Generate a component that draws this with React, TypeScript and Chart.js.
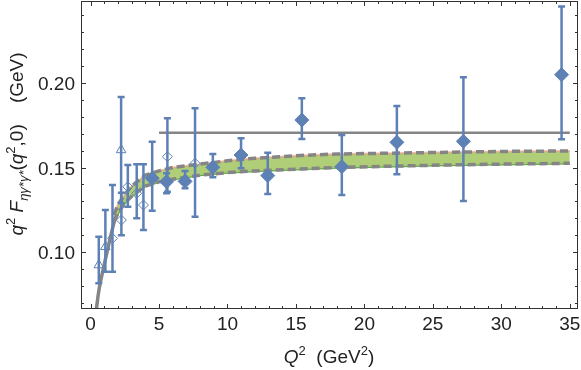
import React, { useEffect, useRef } from "react";
import { Chart, registerables } from "chart.js";

Chart.register(...registerables);

// ---- axis ticks ----
const xTickValues = [0, 5, 10, 15, 20, 25, 30, 35];
const yTickValues = [0.1, 0.15, 0.2];

// ---- BaBar-like data (filled diamonds) ----
const babarQ2 = [4.5, 5.55, 6.9, 8.93, 10.99, 12.94, 15.43, 18.35, 22.37, 27.23, 34.4];
const babarVal = [0.1436, 0.1416, 0.1418, 0.1501, 0.1574, 0.1452, 0.1781, 0.1505, 0.1649, 0.1655, 0.2049];
const babarHi = [0.1653, 0.1466, 0.1479, 0.158, 0.1673, 0.1588, 0.1909, 0.1692, 0.1864, 0.2034, 0.2452];
const babarLo = [0.1244, 0.1347, 0.1377, 0.1442, 0.1495, 0.1343, 0.1669, 0.1337, 0.146, 0.1302, 0.1667];

// ---- CLEO-like data (open diamonds) ----
const cleoQ2 = [1.6, 2.25, 2.72, 3.37, 3.86, 5.61, 7.63];
const cleoVal = [0.1081, 0.1189, 0.1386, 0.1347, 0.1278, 0.1564, 0.1525];
const cleoHi = [0.1396, 0.135, 0.1515, 0.152, 0.152, 0.1791, 0.185];
const cleoLo = [0.0883, 0.11, 0.1268, 0.12, 0.113, 0.1357, 0.1209];

// ---- CELLO-like data (open triangles) ----
const celloQ2 = [0.6, 1.08, 2.23];
const celloVal = [0.0923, 0.1031, 0.1604];
const celloHi = [0.109, 0.1249, 0.1917];
const celloLo = [0.0815, 0.0883, 0.129];

// ---- low-Q2 curve (solid gray) ----
const curveQ2 = [0.42, 0.6, 0.9, 1.2, 1.4, 1.77, 2.2, 2.6];
const curveVal = [0.066, 0.077, 0.089, 0.1, 0.107, 0.119, 0.127, 0.132];

// ---- band ----
const bandQ2 = [1.7, 2, 2.5, 3, 4, 5, 6, 8, 10, 12, 15, 18, 22, 26, 30, 35];
const bandUpper = [0.122, 0.128, 0.134, 0.139, 0.1455, 0.148, 0.15, 0.152, 0.154, 0.1555, 0.157, 0.158, 0.1585, 0.159, 0.1595, 0.1598];
const bandLower = [0.118, 0.123, 0.129, 0.133, 0.139, 0.1415, 0.143, 0.1455, 0.147, 0.148, 0.149, 0.15, 0.1508, 0.1515, 0.152, 0.1525];

// ---- asymptotic line ----
const plateauQ2 = [5, 35];
const plateauVal = [0.1706, 0.1706];

const BLUE = "#5e81b5";
const GRAY = "#858585";
const FONT = '"Liberation Sans", Arial, sans-serif';

const pts = (xs: number[], ys: number[]) => xs.map((x, i) => ({ x, y: ys[i] }));

type Seg = { t: string; it?: boolean; sup?: boolean; sub?: boolean };

function drawRich(ctx: CanvasRenderingContext2D, segs: Seg[], cx: number, baseY: number) {
  const fontFor = (s: Seg) => `${s.it ? "italic " : ""}${s.sup || s.sub ? 13 : 19}px ${FONT}`;
  let w = 0;
  segs.forEach((s) => {
    ctx.font = fontFor(s);
    w += ctx.measureText(s.t).width;
  });
  let x = cx - w / 2;
  ctx.textAlign = "left";
  ctx.textBaseline = "alphabetic";
  segs.forEach((s) => {
    ctx.font = fontFor(s);
    const dy = s.sup ? -8 : s.sub ? 5 : 0;
    ctx.fillText(s.t, x, baseY + dy);
    x += ctx.measureText(s.t).width;
  });
}

const errorBarPlugin = {
  id: "errorBars",
  beforeDatasetDraw(chart: any, args: any) {
    const ds = chart.data.datasets[args.index];
    if (!ds.errHi) return;
    const { ctx } = chart;
    const xs = chart.scales.x;
    const ys = chart.scales.y;
    ctx.save();
    ctx.strokeStyle = BLUE;
    ctx.lineWidth = 2.5;
    ds.data.forEach((p: any, i: number) => {
      const px = xs.getPixelForValue(p.x);
      const top = ys.getPixelForValue(ds.errHi[i]);
      const bot = ys.getPixelForValue(ds.errLo[i]);
      ctx.beginPath();
      ctx.moveTo(px, top);
      ctx.lineTo(px, bot);
      ctx.moveTo(px - 3.5, top);
      ctx.lineTo(px + 3.5, top);
      ctx.moveTo(px - 3.5, bot);
      ctx.lineTo(px + 3.5, bot);
      ctx.stroke();
    });
    ctx.restore();
  },
};

const framePlugin = {
  id: "frame",
  afterDraw(chart: any) {
    const { ctx, chartArea: a } = chart;
    const xs = chart.scales.x;
    const ys = chart.scales.y;
    ctx.save();
    ctx.strokeStyle = "#333";
    ctx.lineWidth = 1;
    ctx.strokeRect(a.left + 0.5, a.top + 0.5, a.right - a.left - 1, a.bottom - a.top - 1);
    ctx.beginPath();
    for (let v = 0; v <= 35; v += 1) {
      const px = Math.round(xs.getPixelForValue(v)) + 0.5;
      const len = v % 5 === 0 ? 5 : 3;
      ctx.moveTo(px, a.bottom);
      ctx.lineTo(px, a.bottom - len);
      ctx.moveTo(px, a.top);
      ctx.lineTo(px, a.top + len);
    }
    for (let k = 7; k <= 24; k += 1) {
      const v = k / 100;
      const py = Math.round(ys.getPixelForValue(v)) + 0.5;
      const len = k % 5 === 0 ? 5 : 3;
      ctx.moveTo(a.left, py);
      ctx.lineTo(a.left + len, py);
      ctx.moveTo(a.right, py);
      ctx.lineTo(a.right - len, py);
    }
    ctx.stroke();

    // tick labels
    ctx.fillStyle = "#222";
    ctx.font = `19px ${FONT}`;
    ctx.textBaseline = "alphabetic";
    ctx.textAlign = "center";
    xTickValues.forEach((v) => {
      ctx.fillText(String(v), xs.getPixelForValue(v), a.bottom + 21);
    });
    ctx.textAlign = "right";
    yTickValues.forEach((v) => {
      ctx.fillText(v.toFixed(2), a.left - 6, ys.getPixelForValue(v) + 7);
    });

    drawRich(
      ctx,
      [{ t: "Q", it: true }, { t: "2", sup: true }, { t: "  (GeV" }, { t: "2", sup: true }, { t: ")" }],
      329,
      363
    );
    ctx.save();
    ctx.translate(23, 144);
    ctx.rotate(-Math.PI / 2);
    drawRich(
      ctx,
      [
        { t: "q", it: true },
        { t: "2", sup: true },
        { t: " " },
        { t: "F", it: true },
        { t: "ηγ*γ*", sub: true, it: true },
        { t: "(" },
        { t: "q", it: true },
        { t: "2", sup: true },
        { t: ",0)" },
        { t: "    (GeV)" },
      ],
      0,
      0
    );
    ctx.restore();
    ctx.restore();
  },
};

export default function App() {
  const ref = useRef<HTMLCanvasElement | null>(null);

  useEffect(() => {
    if (!ref.current) return;
    const chart = new Chart(ref.current, {
      type: "scatter",
      data: {
        datasets: [
          {
            label: "BaBar",
            data: pts(babarQ2, babarVal),
            errHi: babarHi,
            errLo: babarLo,
            pointStyle: "rectRot",
            pointRadius: 7,
            backgroundColor: BLUE,
            borderColor: BLUE,
            borderWidth: 1,
            showLine: false,
            order: 0,
          } as any,
          {
            label: "CLEO",
            data: pts(cleoQ2, cleoVal),
            errHi: cleoHi,
            errLo: cleoLo,
            pointStyle: "rectRot",
            pointRadius: 5,
            backgroundColor: "rgba(255,255,255,0)",
            borderColor: BLUE,
            borderWidth: 1,
            showLine: false,
            order: 1,
          } as any,
          {
            label: "CELLO",
            data: pts(celloQ2, celloVal),
            errHi: celloHi,
            errLo: celloLo,
            pointStyle: "triangle",
            pointRadius: 5.5,
            backgroundColor: "rgba(255,255,255,0)",
            borderColor: BLUE,
            borderWidth: 1,
            showLine: false,
            order: 2,
          } as any,
          {
            label: "upper dashed",
            type: "line",
            data: pts(bandQ2, bandUpper),
            borderColor: GRAY,
            borderWidth: 3.5,
            borderDash: [8, 4],
            pointRadius: 0,
            fill: false,
            order: 3,
          } as any,
          {
            label: "lower dashed",
            type: "line",
            data: pts(bandQ2, bandLower),
            borderColor: GRAY,
            borderWidth: 3.5,
            borderDash: [8, 4],
            pointRadius: 0,
            fill: false,
            order: 4,
          } as any,
          {
            label: "upper",
            type: "line",
            data: pts(bandQ2, bandUpper),
            borderColor: "rgba(235,150,130,0.6)",
            borderWidth: 2,
            pointRadius: 0,
            fill: false,
            order: 5,
          } as any,
          {
            label: "lower",
            type: "line",
            data: pts(bandQ2, bandLower),
            borderColor: "#62ad4a",
            borderWidth: 2.5,
            pointRadius: 0,
            fill: false,
            order: 7,
          } as any,
          {
            label: "band",
            type: "line",
            data: pts(bandQ2, bandUpper),
            borderWidth: 0,
            borderColor: "rgba(0,0,0,0)",
            backgroundColor: "rgb(176,205,120)",
            pointRadius: 0,
            fill: "-1",
            order: 6,
          } as any,
          {
            label: "plateau",
            type: "line",
            data: pts(plateauQ2, plateauVal),
            borderColor: GRAY,
            borderWidth: 2.5,
            pointRadius: 0,
            fill: false,
            order: 8,
          } as any,
          {
            label: "curve",
            type: "line",
            data: pts(curveQ2, curveVal),
            borderColor: GRAY,
            borderWidth: 3.5,
            pointRadius: 0,
            fill: false,
            cubicInterpolationMode: "monotone",
            order: 9,
          } as any,
        ],
      },
      options: {
        responsive: false,
        animation: false,
        events: [],
        layout: { autoPadding: false, padding: { top: 1, right: 3, left: 0, bottom: 0 } },
        plugins: {
          legend: { display: false },
          tooltip: { enabled: false },
        },
        scales: {
          x: {
            type: "linear",
            min: -0.7,
            max: 35.6,
            grid: { display: false, drawTicks: false },
            border: { display: false },
            afterBuildTicks: (s: any) => {
              s.ticks = xTickValues.map((v) => ({ value: v }));
            },
            afterFit: (s: any) => {
              s.height = 61;
              s.paddingLeft = 0;
              s.paddingRight = 0;
            },
            ticks: { display: false },
          },
          y: {
            type: "linear",
            min: 0.0663,
            max: 0.2485,
            grid: { display: false, drawTicks: false },
            border: { display: false },
            afterBuildTicks: (s: any) => {
              s.ticks = yTickValues.map((v) => ({ value: v }));
            },
            afterFit: (s: any) => {
              s.width = 81;
              s.paddingTop = 0;
              s.paddingBottom = 0;
            },
            ticks: { display: false },
          },
        },
      },
      plugins: [errorBarPlugin, framePlugin],
    } as any);
    return () => chart.destroy();
  }, []);

  return (
    <div style={{ position: "absolute", left: 0, top: 0, width: 581, height: 370, background: "#fff" }}>
      <canvas ref={ref} width={581} height={370} style={{ display: "block" }} />
    </div>
  );
}
